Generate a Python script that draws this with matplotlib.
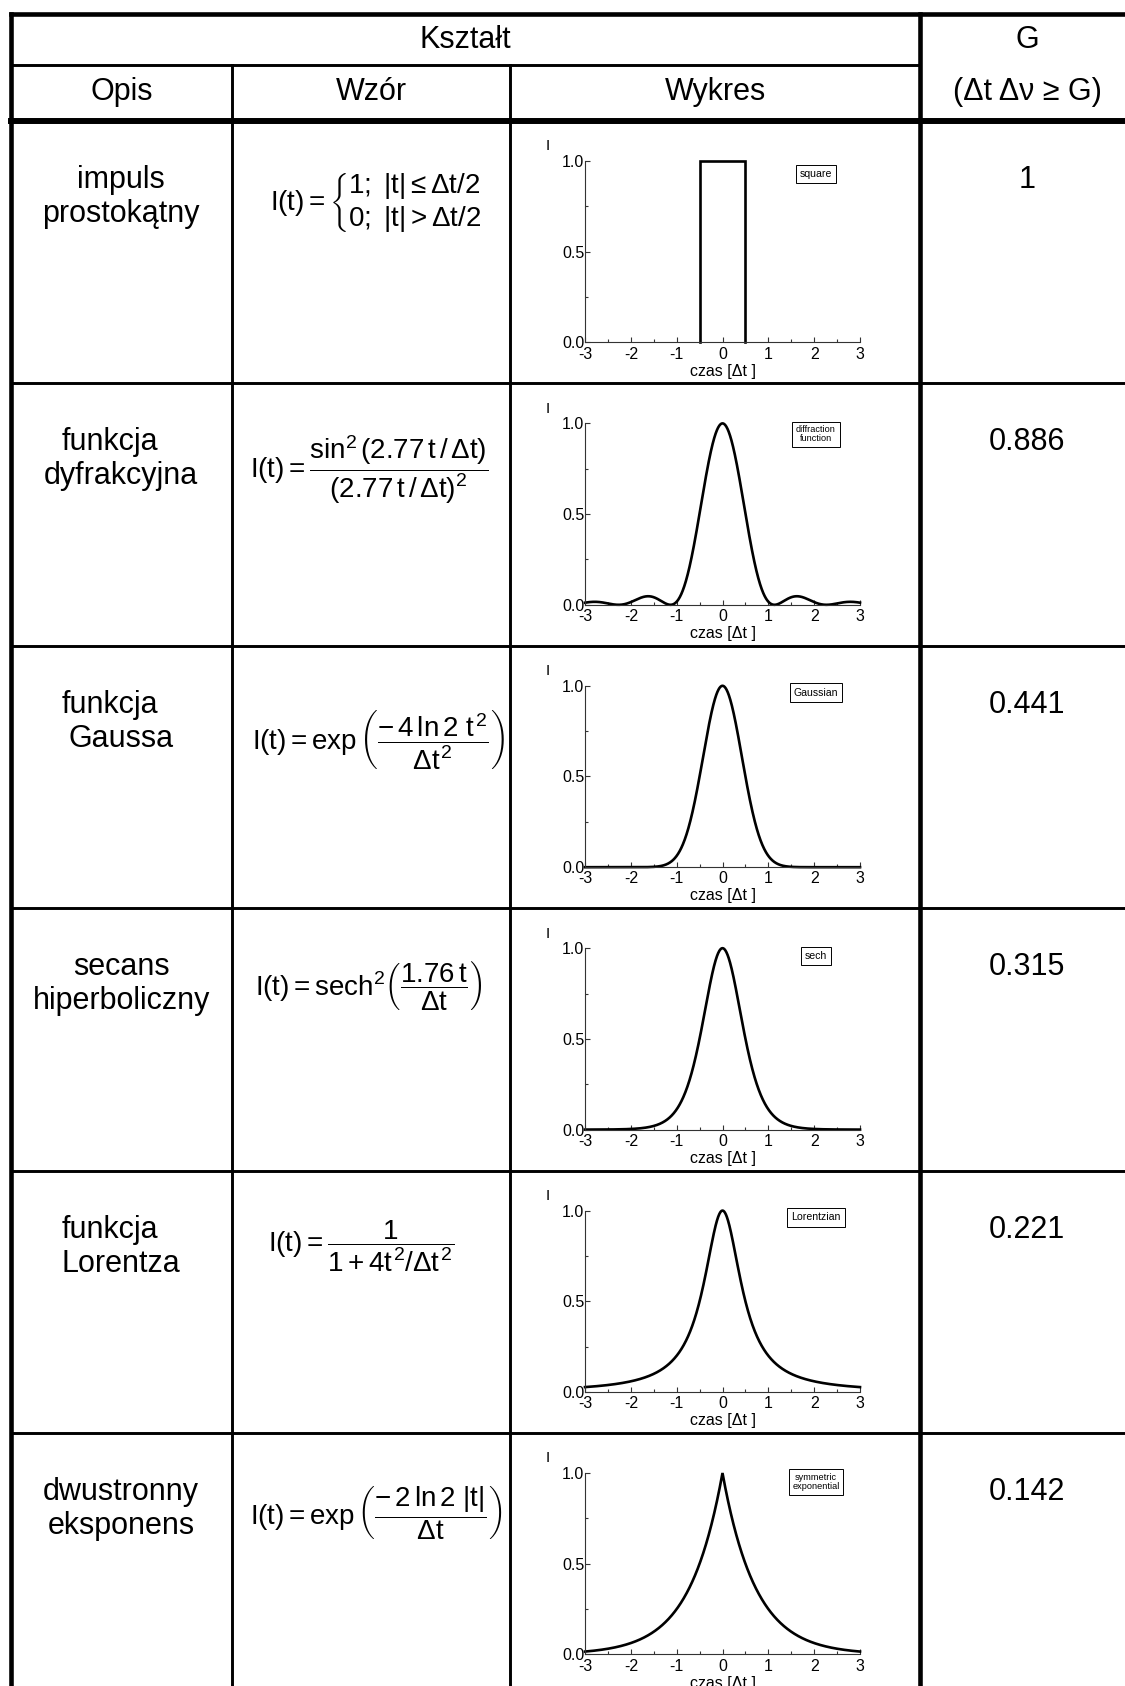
import numpy as np
import matplotlib.pyplot as plt
from matplotlib.ticker import FormatStrFormatter

plt.rcParams['font.family'] = ['Liberation Sans', 'DejaVu Sans']
plt.rcParams['mathtext.fontset'] = 'custom'
plt.rcParams['mathtext.rm'] = 'Liberation Sans'
plt.rcParams['mathtext.it'] = 'Liberation Sans'
plt.rcParams['mathtext.bf'] = 'Liberation Sans:bold'
plt.rcParams['axes.unicode_minus'] = False

# --- Table content ---
naglowki = ['Opis', 'Wzór', 'Wykres']
opis = ['impuls\nprostokątny', 'funkcja\ndyfrakcyjna', 'funkcja\nGaussa',
        'secans\nhiperboliczny', 'funkcja\nLorentza', 'dwustronny\neksponens']
wzory = [
    r'$I(t) = \left\{\genfrac{}{}{0}{0}{1;\ |t| \leq \Delta t/2}{0;\ |t| > \Delta t/2}\right.$',
    r'$I(t) = \dfrac{\sin^2(2.77\,t\,/\,\Delta t)}{(2.77\,t\,/\,\Delta t)^2}$',
    r'$I(t) = \exp\left(\dfrac{-\,4\,\ln 2\ t^2}{\Delta t^2}\right)$',
    r'$I(t) = \mathrm{sech}^2\left(\dfrac{1.76\,t}{\Delta t}\right)$',
    r'$I(t) = \dfrac{1}{1 + 4t^2/\Delta t^2}$',
    r'$I(t) = \exp\left(\dfrac{-\,2\,\ln 2\ |t|}{\Delta t}\right)$',
]
legendy = ['square', 'diffraction\nfunction', 'Gaussian', 'sech',
           'Lorentzian', 'symmetric\nexponential']
G_values = ['1', '0.886', '0.441', '0.315', '0.221', '0.142']

# pulse parameters taken from the formulas (t in units of Δt)
square_half = 0.5
diffr_k = 2.77
gauss_k = 4 * np.log(2)
sech_k = 1.76
lorentz_k = 4.0
exp_k = 2 * np.log(2)

t = np.linspace(-3, 3, 1201)
curves = [
    (np.array([-square_half, -square_half, square_half, square_half]),
     np.array([0.0, 1.0, 1.0, 0.0])),
    (t, np.sinc(diffr_k * t / np.pi) ** 2),
    (t, np.exp(-gauss_k * t ** 2)),
    (t, 1.0 / np.cosh(sech_k * t) ** 2),
    (t, 1.0 / (1.0 + lorentz_k * t ** 2)),
    (t, np.exp(-exp_k * np.abs(t))),
]

# --- Layout (pixels) ---
W, H = 1125, 1686
x_left, x_c1, x_c2, x_c3, x_right = 10.5, 232, 510, 920, 1134
y_top, y_hdr, y_hdr_bot = 14, 65, 121
row_h = 262.4
row_tops = [y_hdr_bot + i * row_h for i in range(6)]
thin = 2.1
thick = 3.3

fig = plt.figure(figsize=(W / 100, H / 100), dpi=100)
tab = fig.add_axes([0, 0, 1, 1])
tab.set_xlim(0, W)
tab.set_ylim(H, 0)
tab.axis('off')

y_end = row_tops[-1] + row_h
kw = dict(color='black', solid_capstyle='projecting')
# outer frame and header
tab.plot([x_left, x_right], [y_top, y_top], lw=thick, **kw)
tab.plot([x_left, x_left], [y_top, y_end], lw=thick, **kw)
tab.plot([x_right, x_right], [y_top, y_end], lw=thick, **kw)
tab.plot([x_left, x_c3], [y_hdr, y_hdr], lw=thin, **kw)
tab.plot([x_left, x_right], [y_hdr_bot, y_hdr_bot], lw=thick * 1.3, **kw)
tab.plot([x_c3, x_c3], [y_top, y_end], lw=thick, **kw)
for xc in (x_c1, x_c2):
    tab.plot([xc, xc], [y_hdr, y_end], lw=thin, **kw)
for yt in row_tops[1:] + [y_end]:
    tab.plot([x_left, x_right], [yt, yt], lw=thin, **kw)

big = 22
tab.text((x_left + x_c3) / 2, 40, 'Kształt', fontsize=big, ha='center', va='center')
tab.text((x_c3 + x_right) / 2, 40, 'G', fontsize=big, ha='center', va='center')
tab.text((x_c3 + x_right) / 2, 92, '(Δt Δν ≥ G)', fontsize=big, ha='center', va='center')
for name, (xa, xb) in zip(naglowki, [(x_left, x_c1), (x_c1, x_c2), (x_c2, x_c3)]):
    tab.text((xa + xb) / 2, 92, name, fontsize=big, ha='center', va='center')

formula_x = [270, 250, 252, 255, 268, 250]
formula_dy = [81, 86, 94, 77, 76, 80]
legend_top = [0.955, 0.99, 0.99, 0.985, 0.99, 1.0]

for i, top in enumerate(row_tops):
    # description, two centred lines
    for j, line in enumerate(opis[i].split('\n')):
        shift = -11 if line == 'funkcja' else 0
        tab.text((x_left + x_c1) / 2 + shift, top + 59 + 34 * j, line,
                 fontsize=big, ha='center', va='center')
    tab.text(formula_x[i], top + formula_dy[i], wzory[i],
             fontsize=20, ha='left', va='center')
    tab.text((x_c3 + x_right) / 2, top + 59, G_values[i],
             fontsize=big, ha='center', va='center')

    # small plot of the pulse shape
    y1 = top + 40
    y0 = top + row_h - 41
    ax = fig.add_axes([585 / W, 1 - y0 / H, 275 / W, (y0 - y1) / H])
    ax.patch.set_alpha(0)
    xs, ys = curves[i]
    ax.plot(xs, ys, color='black', lw=1.9, clip_on=False, solid_joinstyle='miter')
    ax.set_xlim(-3, 3)
    ax.set_ylim(0, 1)
    ax.spines['top'].set_visible(False)
    ax.spines['right'].set_visible(False)
    for s in ('left', 'bottom'):
        ax.spines[s].set_linewidth(0.8)
        ax.spines[s].set_color('#333333')
    ax.set_xticks(np.arange(-3, 4, 1))
    ax.set_xticks(np.arange(-2.5, 3, 1), minor=True)
    ax.set_yticks([0, 0.5, 1.0])
    ax.set_yticks([0.25, 0.75], minor=True)
    ax.yaxis.set_major_formatter(FormatStrFormatter('%.1f'))
    ax.tick_params(which='major', direction='in', length=3.5, width=0.8,
                   color='#333333', labelsize=11.5)
    ax.tick_params(which='minor', direction='in', length=2.2, width=0.8,
                   color='#333333')
    ax.tick_params(axis='y', pad=0.5)
    ax.tick_params(axis='x', pad=3)
    ax.set_xlabel('czas [Δt ]', fontsize=11.5, labelpad=1.5)
    ax.text(-0.135, 1.08, 'I', transform=ax.transAxes, fontsize=11,
            ha='center', va='center')
    n_lines = legendy[i].count('\n') + 1
    ax.text(0.84, legend_top[i], legendy[i], transform=ax.transAxes,
            fontsize=7.6 if n_lines == 1 else 6.6, ha='center', va='top',
            linespacing=1.0,
            bbox=dict(boxstyle='square,pad=0.4', fc='white', ec='black', lw=0.7))

fig.savefig('out.png', dpi=100)
